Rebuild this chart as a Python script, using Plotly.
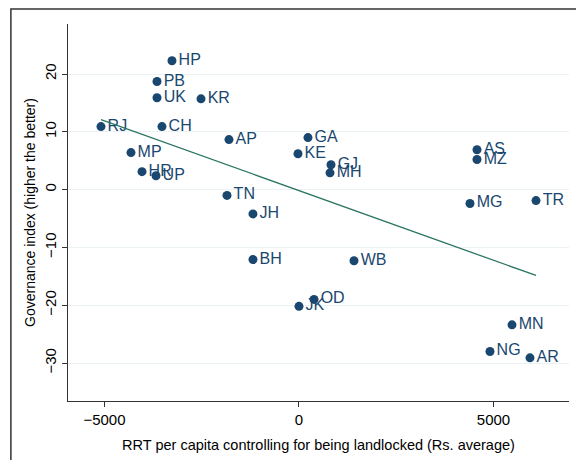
import numpy as np
import plotly.graph_objects as go

# state codes, RRT per capita (x) and governance index (y)
states = ["HP", "PB", "UK", "KR", "RJ", "CH", "AP", "GA", "KE", "GJ", "MH",
          "MP", "HR", "UP", "TN", "JH", "BH", "WB", "OD", "JK",
          "AS", "MZ", "MG", "TR", "MN", "NG", "AR"]
rrt = [-3265, -3650, -3650, -2519, -5090, -3522, -1800, 231, -26, 823, 797,
       -4319, -4036, -3676, -1851, -1183, -1183, 1414, 386, 0,
       4576, 4576, 4396, 6093, 5476, 4910, 5938]
gov = [22.3, 18.7, 15.9, 15.7, 10.9, 10.9, 8.65, 9.0, 6.2, 4.3, 2.9,
       6.4, 3.1, 2.4, -1.0, -4.2, -12.1, -12.3, -19.0, -20.2,
       6.9, 5.2, -2.4, -1.9, -23.4, -28.0, -29.1]

x_ticks = [-5000, 0, 5000]
y_ticks = [-30, -20, -10, 0, 10, 20]

navy = "#1a476f"
green = "#2b7563"

# linear fit over the data range
slope, intercept = np.polyfit(rrt, gov, 1)
fit_x = np.array([min(rrt), max(rrt)])
fit_y = slope * fit_x + intercept

fig = go.Figure()

fig.add_trace(go.Scatter(
    x=rrt, y=gov, mode="markers+text", text=states,
    textposition="middle right",
    textfont=dict(family="Liberation Sans, Arial, sans-serif", size=16, color=navy),
    marker=dict(color=navy, size=9),
    showlegend=False, cliponaxis=False
))

fig.add_trace(go.Scatter(
    x=fit_x, y=fit_y, mode="lines",
    line=dict(color=green, width=1.3),
    showlegend=False
))

# outer frame like the Stata graph region
fig.add_shape(type="rect", xref="paper", yref="paper",
              x0=-0.114, x1=1.026, y0=-0.2, y1=1.04,
              line=dict(color="#333333", width=1.5), layer="below")

# page body adds ~8px offset, so margins are shifted to compensate
fig.update_layout(
    width=584, height=460,
    margin=dict(l=60, r=23, t=16, b=67),
    paper_bgcolor="white", plot_bgcolor="white",
    font=dict(family="Liberation Sans, Arial, sans-serif", size=13, color="black"),
)

fig.update_xaxes(
    range=[-5938, 6941], tickvals=x_ticks, ticktext=["\u22125000", "0", "5000"],
    showgrid=False, zeroline=False, showline=True, linecolor="#333333", linewidth=1,
    ticks="outside", ticklen=5, tickcolor="#333333", automargin=False,
    tickfont=dict(size=15),
    title=dict(text="RRT per capita controlling for being landlocked (Rs. average)",
               font=dict(size=14.5), standoff=12)
)

fig.update_yaxes(
    range=[-36.57, 28.65], tickvals=y_ticks, tickangle=-90,
    showgrid=True, gridcolor="#eaf2f3", gridwidth=1.2, zeroline=False,
    showline=True, linecolor="#333333", linewidth=1,
    ticks="outside", ticklen=5, tickcolor="#333333", automargin=False,
    tickfont=dict(size=15),
    title=dict(text="Governance index (higher the better)", font=dict(size=14), standoff=3)
)

fig.write_html("out.html")
